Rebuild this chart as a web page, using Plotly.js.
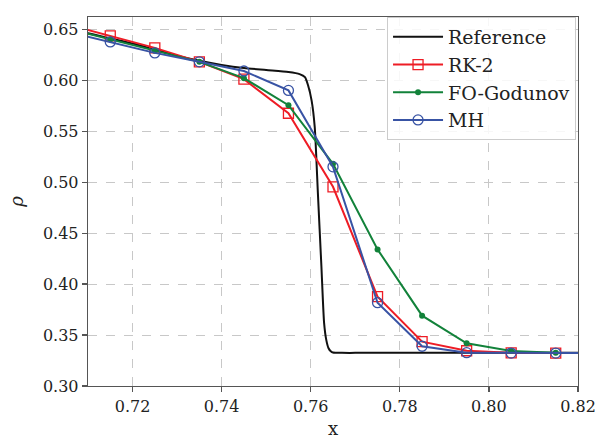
<!DOCTYPE html>
<html>
<head>
<meta charset="utf-8">
<script src="https://cdn.plot.ly/plotly-3.0.1.min.js"></script>
<style>html,body{margin:0;padding:0;background:#fff;}#chart{width:608px;height:440px;}</style>
</head>
<body>
<div id="chart"></div>
<script>
// Reference solution (dense curve)
const refX = [0.705, 0.71, 0.72, 0.73, 0.735, 0.74, 0.745, 0.75, 0.755, 0.7575, 0.7587, 0.7594, 0.7602, 0.7609, 0.7616, 0.7624, 0.7630, 0.7635, 0.7640, 0.7645, 0.765, 0.767, 0.77, 0.80, 0.825];
const refY = [0.652, 0.646, 0.636, 0.624, 0.619, 0.615, 0.612, 0.610, 0.608, 0.606, 0.603, 0.595, 0.580, 0.554, 0.490, 0.417, 0.362, 0.345, 0.337, 0.334, 0.3328, 0.3325, 0.3325, 0.3325, 0.3325];

// Cell-centre solutions
const cellX = [0.705, 0.715, 0.725, 0.735, 0.745, 0.755, 0.765, 0.775, 0.785, 0.795, 0.805, 0.815, 0.825];
const rk2Y  = [0.655, 0.6434, 0.6317, 0.618, 0.601, 0.5676, 0.4954, 0.3876, 0.3435, 0.3346, 0.3325, 0.3323, 0.3323];
const godY  = [0.651, 0.640, 0.629, 0.618, 0.602, 0.5755, 0.518, 0.434, 0.369, 0.3419, 0.3343, 0.3325, 0.3323];
const mhY   = [0.648, 0.6375, 0.6268, 0.618, 0.609, 0.590, 0.515, 0.3817, 0.339, 0.3327, 0.3323, 0.3323, 0.3323];

const names = ['Reference', 'RK-2', 'FO-Godunov', 'MH'];
const colors = ['#111111', '#ee1c25', '#12823a', '#3853a4'];

const traces = [
  {x: refX, y: refY, name: names[0], mode: 'lines', line: {color: colors[0], width: 2, shape: 'spline', smoothing: 0.6}},
  {x: cellX, y: rk2Y, name: names[1], mode: 'lines+markers', line: {color: colors[1], width: 2},
   marker: {symbol: 'square-open', size: 10, color: colors[1], line: {width: 1.3}}},
  {x: cellX, y: godY, name: names[2], mode: 'lines+markers', line: {color: colors[2], width: 2},
   marker: {symbol: 'circle', size: 6, color: colors[2]}},
  {x: cellX, y: mhY, name: names[3], mode: 'lines+markers', line: {color: colors[3], width: 2},
   marker: {symbol: 'circle-open', size: 10, color: colors[3], line: {width: 1.3}}}
];

const axisCommon = {
  showline: true, mirror: true, linecolor: '#555', linewidth: 1.3,
  ticks: 'outside', ticklen: 5, tickcolor: '#555', tickwidth: 1.2,
  showgrid: true, gridcolor: '#c8c8c8', griddash: 'dash', gridwidth: 1,
  zeroline: false,
  tickfont: {family: 'DejaVu Serif', size: 16, color: '#222'}
};

const layout = {
  width: 608, height: 440,
  margin: {l: 88, r: 30, t: 17, b: 54},
  paper_bgcolor: '#fff', plot_bgcolor: '#fff',
  font: {family: 'DejaVu Serif', color: '#222'},
  showlegend: true,
  legend: {x: 0.996, y: 1.0, xanchor: 'right', yanchor: 'top', itemwidth: 50,
    bgcolor: 'rgba(255,255,255,0.85)', bordercolor: '#cccccc', borderwidth: 1,
    font: {family: 'DejaVu Serif', size: 19, color: '#222'}, tracegroupgap: 0},
  xaxis: Object.assign({}, axisCommon, {
    range: [0.71, 0.82], tickvals: [0.72, 0.74, 0.76, 0.78, 0.80, 0.82], tickformat: '.2f',
    title: {text: 'x', font: {family: 'DejaVu Serif', size: 18, color: '#222'}, standoff: 8}
  }),
  yaxis: Object.assign({}, axisCommon, {
    range: [0.30, 0.662], tickvals: [0.30, 0.35, 0.40, 0.45, 0.50, 0.55, 0.60, 0.65], tickformat: '.2f',
    title: {text: '<i>ρ</i>', font: {family: 'DejaVu Serif', size: 18, color: '#222'}, standoff: 14}
  })
};

Plotly.newPlot('chart', traces, layout, {displayModeBar: false, staticPlot: true});
</script>
</body>
</html>
